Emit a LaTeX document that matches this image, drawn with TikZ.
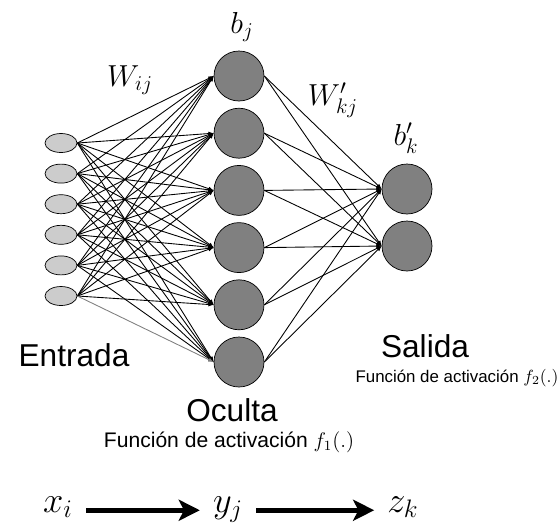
\documentclass[tikz,border=0pt]{standalone}
\usepackage{fontspec}
\setmainfont{Liberation Sans}
\usetikzlibrary{shapes.geometric,arrows.meta}

\begin{document}
\begin{tikzpicture}[x=0.02cm,y=-0.02cm,
  inputnode/.style={ellipse,draw,fill=gray!40,minimum width=0.64cm,minimum height=0.38cm,inner sep=0pt},
  neuron/.style={circle,draw,fill=gray,minimum size=1cm,inner sep=0pt},
  weight/.style={-{Latex[length=3pt,width=2.4pt]},line width=0.5pt},
  flow/.style={-{Stealth[length=12pt,width=12pt,inset=3pt]},line width=3pt},
  layertext/.style={font=\fontsize{18}{20}\selectfont},
  mathtext/.style={font=\fontsize{18}{20}\selectfont},
  flowtext/.style={font=\fontsize{20}{22}\selectfont,anchor=base}]
\useasboundingbox (0,0) rectangle (557,525);

%input layer
\foreach \n in {1,...,6}
  \node[inputnode] (i\n) at (61,{143+30.6*(\n-1)}) {};

%hidden layer
\foreach \n in {1,...,6}
  \node[neuron] (h\n) at (239,{76+57.2*(\n-1)}) {};

%output layer
\node[neuron] (o1) at (407,189) {};
\node[neuron] (o2) at (407,246) {};

%input to hidden
\foreach \a in {1,...,5}
  \foreach \b in {1,...,6}
    \draw[weight] (i\a.east) -- (h\b.west);
\foreach \b in {1,...,5}
  \draw[weight] (i6.east) -- (h\b.west);
\draw[weight,gray] (i6.east) -- (h6.west);

%hidden to output
\foreach \b in {1,...,6}
  \foreach \c in {1,2}
    \draw[weight] (h\b.east) -- (o\c.west);

%weights and biases
\node[mathtext] (bj) at (242,27) {$b_j$};
\node[mathtext] (wij) at (130,80) {$W_{ij}$};
\node[mathtext] (wkj) at (333,100) {$W'_{kj}$};
\node[mathtext] (bk) at (406,138) {$b'_k$};

%layer names
\node[layertext,anchor=base] (entrada) at (74,366) {Entrada};
\node[layertext,anchor=base] (salida) at (425,357) {Salida};
\node[font=\fontsize{9.6}{11}\selectfont,anchor=base] (fsalida) at (457,382) {Función de activación $f_2(.)$};
\node[layertext,anchor=base] (oculta) at (232,421) {Oculta};
\node[font=\fontsize{12}{14}\selectfont,anchor=base] (foculta) at (229,447) {Función de activación $f_1(.)$};

%signal flow
\node[flowtext] (xi) at (58,512) {$x_i$};
\node[flowtext] (yj) at (228,512) {$y_j$};
\node[flowtext] (zk) at (403,512) {$z_k$};
\draw[flow,shorten <=4pt,shorten >=4pt] ([yshift=1pt]xi.base east) -- ([yshift=1pt]yj.base west);
\draw[flow,shorten <=4pt,shorten >=4pt] ([yshift=1pt]yj.base east) -- ([yshift=1pt]zk.base west);

\end{tikzpicture}
\end{document}
